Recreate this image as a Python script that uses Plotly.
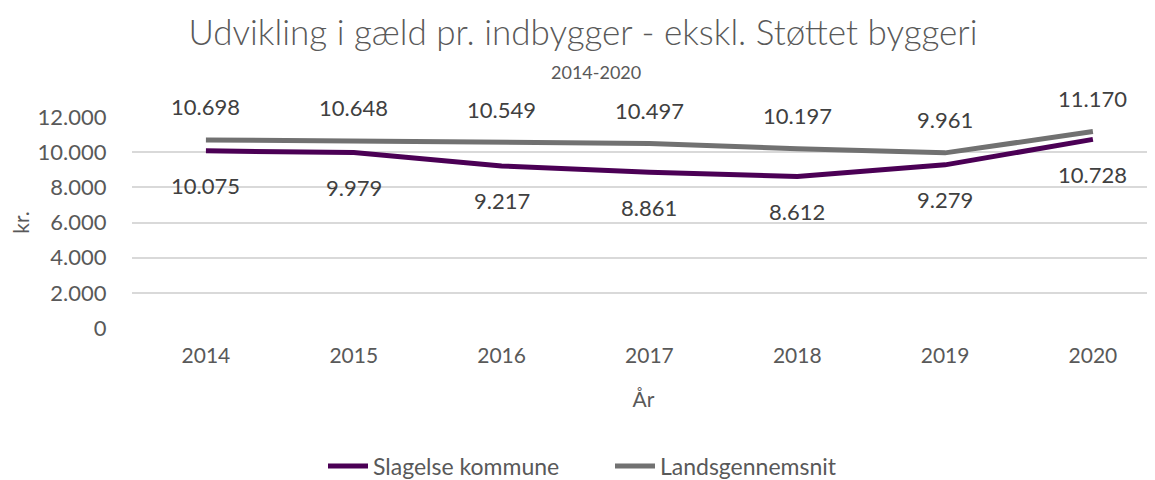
import plotly.graph_objects as go

years = ["2014", "2015", "2016", "2017", "2018", "2019", "2020"]
slagelse = [10075, 9979, 9217, 8861, 8612, 9279, 10728]
lands = [10698, 10648, 10549, 10497, 10197, 9961, 11170]
y_ticks = [0, 2000, 4000, 6000, 8000, 10000, 12000]
y_ticklabels = ["0", "2.000", "4.000", "6.000", "8.000", "10.000", "12.000"]

PURPLE = "#4B0055"
GREY = "#717171"
FONT = "Lato"

# page body has an 8px margin; work in figure pixels
OFF = 8
W, H = 1155 - OFF, 480 - OFF
PLOT_LEFT = 132 - OFF
PLOT_TOP, PLOT_BOTTOM = 117 - OFF, 328 - OFF

def py(pix):
    return (PLOT_BOTTOM - (pix - OFF)) / (PLOT_BOTTOM - PLOT_TOP)

def px(pix):
    return ((pix - OFF) - PLOT_LEFT) / (W - PLOT_LEFT)

def fmt(v):
    return f"{v:,}".replace(",", ".")

fig = go.Figure()
fig.add_trace(go.Scatter(x=years, y=slagelse, mode="lines", name="Slagelse kommune",
                         line=dict(color=PURPLE, width=5)))
fig.add_trace(go.Scatter(x=years, y=lands, mode="lines", name="Landsgennemsnit",
                         line=dict(color=GREY, width=5)))

ann = []
for i, v in enumerate(lands):
    ann.append(dict(x=i, y=v, xref="x", yref="y", text=fmt(v), showarrow=False, yshift=33,
                    font=dict(family=FONT, size=22, color="#404040")))
for i, v in enumerate(slagelse):
    ann.append(dict(x=i, y=v, xref="x", yref="y", text=fmt(v), showarrow=False, yshift=-35,
                    font=dict(family=FONT, size=22, color="#404040")))
ann.append(dict(x=px(596), y=py(72), xref="paper", yref="paper", xanchor="center",
                yanchor="middle", text="2014-2020", showarrow=False,
                font=dict(family=FONT, size=18, color="#595959")))

fig.update_layout(
    width=W, height=H,
    margin=dict(l=PLOT_LEFT, r=0, t=PLOT_TOP, b=H - PLOT_BOTTOM, autoexpand=False),
    paper_bgcolor="white", plot_bgcolor="white",
    font=dict(family=FONT, color="#595959"),
    title=dict(text="Udvikling i gæld pr. indbygger - ekskl. Støttet byggeri",
               x=px(583), xanchor="center", xref="paper", y=1 - (33 - OFF) / H, yref="container",
               yanchor="middle",
               font=dict(family=FONT, size=35, color="#595959", weight=300)),
    annotations=ann,
    showlegend=True,
    legend=dict(orientation="h", x=px(610), xanchor="center", y=py(466), yanchor="middle",
                font=dict(family=FONT, size=23, color="#595959"), itemwidth=40,
                entrywidth=232, entrywidthmode="pixels", traceorder="normal"),
    xaxis=dict(type="category", range=[-0.5, 6.42], showgrid=False, zeroline=False,
               showline=False, ticks="outside", ticklen=9, tickcolor="rgba(0,0,0,0)",
               automargin=False,
               tickfont=dict(family=FONT, size=21, color="#595959"),
               title=dict(text="År", standoff=26, font=dict(family=FONT, size=21, color="#595959"))),
    yaxis=dict(range=[0, 12000], tickvals=y_ticks, ticktext=y_ticklabels,
               showgrid=True, gridcolor="#D9D9D9", gridwidth=1.5, zeroline=False,
               ticks="outside", ticklen=20, tickcolor="rgba(0,0,0,0)",
               automargin=False,
               tickfont=dict(family=FONT, size=22, color="#595959"),
               title=dict(text="kr.", standoff=24, font=dict(family=FONT, size=21, color="#595959"))),
)

fig.write_html("out.html")
